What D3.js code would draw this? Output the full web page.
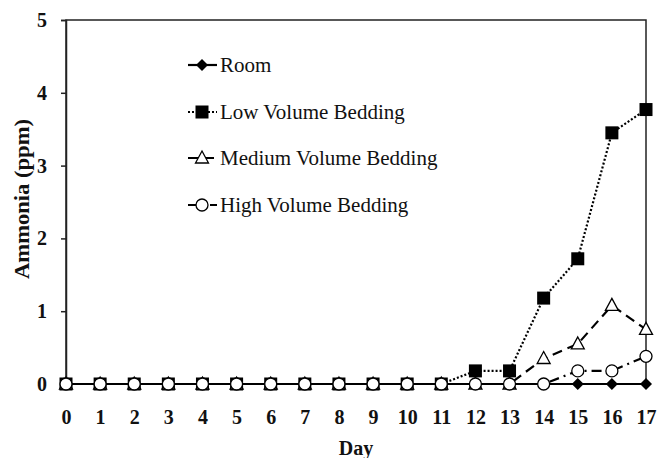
<!DOCTYPE html>
<html>
<head>
<meta charset="utf-8">
<script src="https://cdn.jsdelivr.net/npm/d3@7"></script>
<style>
  body { margin: 0; background: #fff; }
  svg { display: block; font-family: "Liberation Serif", "Times New Roman", serif; }
</style>
</head>
<body>
<svg id="chart" width="657" height="458"></svg>
<script>
// data
const days = [0, 1, 2, 3, 4, 5, 6, 7, 8, 9, 10, 11, 12, 13, 14, 15, 16, 17];
const room   = [0, 0, 0, 0, 0, 0, 0, 0, 0, 0, 0, 0, 0, 0, 0, 0, 0, 0];
const low    = [0, 0, 0, 0, 0, 0, 0, 0, 0, 0, 0, 0, 0.18, 0.18, 1.18, 1.72, 3.45, 3.77];
const medium = [0, 0, 0, 0, 0, 0, 0, 0, 0, 0, 0, 0, 0, 0, 0.35, 0.55, 1.08, 0.75];
const high   = [0, 0, 0, 0, 0, 0, 0, 0, 0, 0, 0, 0, 0, 0, 0, 0.18, 0.18, 0.38];
const yTicks = [0, 1, 2, 3, 4, 5];

const series = [
    { name: "Room", values: room, dash: null, marker: "diamond" },
    { name: "Low Volume Bedding", values: low, dash: "2,2", marker: "square" },
    { name: "Medium Volume Bedding", values: medium, dash: "10,6", marker: "triangle" },
    { name: "High Volume Bedding", values: high, dash: "10,5,2,5", marker: "circle" }
];

const svg = d3.select("#chart");
const plotL = 66, plotR = 646, plotT = 20, plotB = 384;

const x = d3.scaleLinear().domain([0, 17]).range([plotL, plotR]);
const y = d3.scaleLinear().domain([0, 5]).range([plotB, plotT]);

// frame
svg.append("rect")
    .attr("x", plotL).attr("y", plotT)
    .attr("width", plotR - plotL).attr("height", plotB - plotT)
    .attr("fill", "none").attr("stroke", "#222").attr("stroke-width", 1.5);

// y axis
const yAxis = svg.append("g")
    .attr("transform", `translate(${plotL},0)`)
    .call(d3.axisLeft(y).tickValues(yTicks).tickFormat(d3.format("d")).tickSize(5).tickPadding(14));
yAxis.select(".domain").attr("stroke", "#222").attr("stroke-width", 1.5);
yAxis.selectAll(".tick line").attr("stroke", "#222").attr("stroke-width", 1.5);
yAxis.selectAll(".tick text")
    .attr("font-family", "Liberation Serif").attr("font-size", 20)
    .attr("font-weight", "bold").attr("fill", "#111");

// x axis labels only
const xAxis = svg.append("g")
    .attr("transform", `translate(0,${plotB})`)
    .call(d3.axisBottom(x).tickValues(days).tickSize(0).tickPadding(26));
xAxis.select(".domain").remove();
xAxis.selectAll(".tick text")
    .attr("font-family", "Liberation Serif").attr("font-size", 20)
    .attr("font-weight", "bold").attr("fill", "#111");

svg.append("text")
    .attr("x", (plotL + plotR) / 2).attr("y", 455)
    .attr("text-anchor", "middle")
    .attr("font-size", 20).attr("font-weight", "bold").attr("fill", "#111")
    .text("Day");

svg.append("text")
    .attr("transform", `translate(29,199) rotate(-90)`)
    .attr("text-anchor", "middle")
    .attr("font-size", 20).attr("font-weight", "bold").attr("fill", "#111")
    .attr("textLength", 160).attr("lengthAdjust", "spacingAndGlyphs")
    .text("Ammonia (ppm)");

function drawMarker(g, type, cx, cy) {
    if (type === "diamond") {
        g.append("path")
            .attr("d", `M${cx},${cy - 6}L${cx + 6},${cy}L${cx},${cy + 6}L${cx - 6},${cy}Z`)
            .attr("fill", "#000");
    } else if (type === "square") {
        g.append("rect")
            .attr("x", cx - 6.5).attr("y", cy - 6.5).attr("width", 13).attr("height", 13)
            .attr("fill", "#000");
    } else if (type === "triangle") {
        g.append("path")
            .attr("d", `M${cx},${cy - 7}L${cx + 6.5},${cy + 5}L${cx - 6.5},${cy + 5}Z`)
            .attr("fill", "#fff").attr("stroke", "#000").attr("stroke-width", 1.3);
    } else {
        g.append("circle")
            .attr("cx", cx).attr("cy", cy).attr("r", 6)
            .attr("fill", "#fff").attr("stroke", "#000").attr("stroke-width", 1.3);
    }
}

const line = d3.line().x((d, i) => x(days[i])).y(d => y(d));

series.forEach(s => {
    const g = svg.append("g");
    g.append("path")
        .datum(s.values)
        .attr("d", line)
        .attr("fill", "none")
        .attr("stroke", "#000")
        .attr("stroke-width", 2.2)
        .attr("stroke-dasharray", s.dash);
    s.values.forEach((v, i) => drawMarker(g, s.marker, x(days[i]), y(v)));
});

// legend
const legendY = [65, 112, 158, 205];
series.forEach((s, i) => {
    const g = svg.append("g");
    const ly = legendY[i];
    g.append("line")
        .attr("x1", 188).attr("x2", 217).attr("y1", ly).attr("y2", ly)
        .attr("stroke", "#000").attr("stroke-width", 2.2)
        .attr("stroke-dasharray", s.dash);
    drawMarker(g, s.marker, 202, ly);
    g.append("text")
        .attr("x", 220).attr("y", ly + 7)
        .attr("font-size", 21).attr("fill", "#111")
        .text(s.name);
});
</script>
</body>
</html>
